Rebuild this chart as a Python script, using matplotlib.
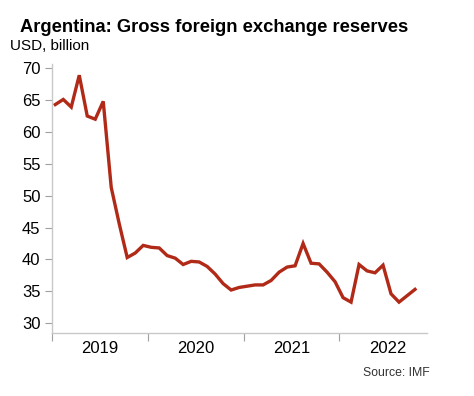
import matplotlib
matplotlib.use("Agg")
import matplotlib.pyplot as plt
import numpy as np

# Monthly gross FX reserves, Jan 2019 - Oct 2022 (USD bn)
reserves = [64.3, 65.1, 63.9, 68.9, 62.5, 62.0, 64.8, 51.3, 45.6, 40.3, 41.0, 42.2,
            41.9, 41.8, 40.6, 40.2, 39.2, 39.7, 39.6, 38.9, 37.7, 36.2, 35.2, 35.6,
            35.8, 36.0, 36.0, 36.7, 38.0, 38.8, 39.0, 42.5, 39.4, 39.3, 38.0, 36.5,
            34.0, 33.3, 39.2, 38.2, 37.9, 39.1, 34.6, 33.3, 34.3, 35.3]
years = ["2019", "2020", "2021", "2022"]
yticks = [30, 35, 40, 45, 50, 55, 60, 65, 70]

months = np.arange(len(reserves)) + 0.45

plt.rcParams['font.family'] = ['Liberation Sans', 'DejaVu Sans']
grey = '#a0a0a0'

fig = plt.figure(figsize=(4.74, 3.96), dpi=100)
ax = fig.add_axes([0.109, 0.159, 0.791, 0.68])

ax.plot(months, reserves, color='#b02a17', lw=2.4, solid_joinstyle='miter')

ax.set_xlim(0, 46.9)
ax.set_ylim(28.45, 70.7)
ax.set_yticks(yticks)
ax.set_xticks([0, 12, 24, 36])
ax.set_xticklabels([])
ax.set_xticks([6, 18, 30, 42], minor=True)
ax.set_xticklabels(years, minor=True, fontsize=12)
ax.tick_params(axis='x', which='minor', length=0, pad=6)
ax.tick_params(axis='x', which='major', length=6, color=grey, direction='out')
ax.tick_params(axis='y', length=5, color=grey, labelsize=12, pad=3)

for s in ['top', 'right']:
    ax.spines[s].set_visible(False)
for s in ['left', 'bottom']:
    ax.spines[s].set_color('#c8c8c8')
    ax.spines[s].set_linewidth(1.0)

fig.text(0.042, 0.93, "Argentina: Gross foreign exchange reserves",
         fontsize=13.2, fontweight='bold', va='center')
fig.text(0.021, 0.884, "USD, billion", fontsize=11, va='center')
fig.text(0.907, 0.058, "Source: IMF", fontsize=8.8, ha='right', va='center', color='#333333')

fig.savefig("out.png", dpi=100)
